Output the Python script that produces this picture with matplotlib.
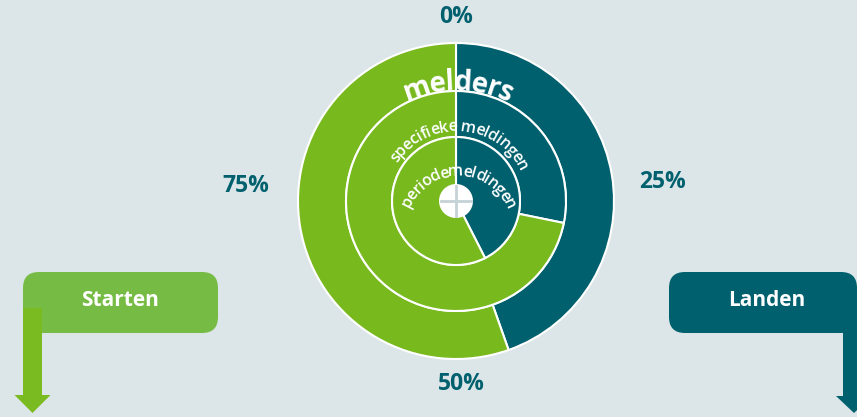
import numpy as np
import matplotlib
matplotlib.use('Agg')
import matplotlib.pyplot as plt
from matplotlib.patches import FancyBboxPatch, FancyArrow, Circle
from matplotlib.font_manager import FontProperties

# ring data (fraction 'done' from the top, clockwise)
ring_names = ['melders', 'specifieke meldingen', 'periodemeldingen']
ring_done = [0.446, 0.282, 0.425]
pct_labels = ['0%', '25%', '50%', '75%']
box_labels = ['Starten', 'Landen']

TEAL = '#00606e'
GREEN = '#78b91e'
BOX_GREEN = '#76bc44'
BG = '#dce6e8'

W, H = 857, 417
fig = plt.figure(figsize=(W / 100, H / 100), dpi=100)
fig.patch.set_facecolor(BG)
ax = fig.add_axes([0, 0, 1, 1])
ax.set_facecolor(BG)

cx, cy = 456, H - 201
radii = [158, 110, 64]
widths = [48, 46, 64]

for frac, r, w in zip(ring_done, radii, widths):
    ax.pie([frac, 1 - frac], radius=r, center=(cx, cy), startangle=90,
           counterclock=False, colors=[TEAL, GREEN], frame=True,
           wedgeprops=dict(width=w, edgecolor='white', linewidth=1.5))

# centre hub with cross
ax.add_patch(Circle((cx, cy), 17, facecolor='white', edgecolor='none', zorder=5))
ax.plot([cx - 15, cx + 15], [cy, cy], color='#c5d2d6', lw=2, zorder=6)
ax.plot([cx, cx], [cy - 15, cy + 15], color='#c5d2d6', lw=2, zorder=6)

fig.canvas.draw()
renderer = fig.canvas.get_renderer()


def curved_text(s, r, center_deg, size, weight, track=1.0, ox=0, oy=0):
    fp = FontProperties(family='Open Sans', size=size, weight=weight)
    def tw(t):
        if not t:
            return 0.0
        return renderer.get_text_width_height_descent(t.replace(' ', '\u00a0'), fp, ismath=False)[0]
    total = tw(s) * track
    c0 = np.radians(center_deg)
    for i, ch in enumerate(s):
        mid = (tw(s[:i]) + tw(s[:i + 1])) / 2 * track
        a = c0 + (mid - total / 2) / r
        x = cx + ox + r * np.sin(a)
        y = cy + oy + r * np.cos(a)
        ax.text(x, y, ch, fontproperties=fp, color='white', ha='center',
                va='baseline', rotation=-np.degrees(a), rotation_mode='anchor', zorder=7)


curved_text(ring_names[0], 111, 1, 20, 'bold', track=0.92)
curved_text(ring_names[1], 70, 4, 11.5, 'semibold', track=0.92)
curved_text(ring_names[2], 52, 1, 11.5, 'semibold', track=0.88, ox=2, oy=-27)

# percentage marks around the dial
pct_pos = [(456, H - 17), (663, H - 182), (461, H - 384), (246, H - 186)]
for lab, (x, y) in zip(pct_labels, pct_pos):
    ax.text(x, y, lab, color=TEAL, fontsize=16.5, fontweight='bold',
            family='Open Sans', ha='center', va='center')

# start / land boxes with arrows
ax.add_patch(FancyBboxPatch((23, H - 333), 195, 61, boxstyle='round,pad=0,rounding_size=16',
                            facecolor=BOX_GREEN, edgecolor='none', zorder=2))
ax.add_patch(FancyArrow(32.5, H - 308, 0, -105, width=19, head_width=36, head_length=18,
                        length_includes_head=True, facecolor='#79bb20', edgecolor='none', zorder=3))
ax.add_patch(FancyBboxPatch((669, H - 333), 188, 61, boxstyle='round,pad=0,rounding_size=16',
                            facecolor=TEAL, edgecolor='none', zorder=2))
ax.add_patch(FancyArrow(854, H - 315, 0, -98, width=22, head_width=36, head_length=17,
                        length_includes_head=True, facecolor=TEAL, edgecolor='none', zorder=3))

ax.text(120, H - 301, box_labels[0], color='white', fontsize=15, fontweight='bold',
        family='Open Sans', ha='center', va='center', zorder=4)
ax.text(767, H - 301, box_labels[1], color='white', fontsize=15, fontweight='bold',
        family='Open Sans', ha='center', va='center', zorder=4)

ax.set_xlim(0, W)
ax.set_ylim(0, H)
ax.set_aspect('equal')
ax.axis('off')

fig.savefig('out.png', dpi=100, facecolor=BG)
